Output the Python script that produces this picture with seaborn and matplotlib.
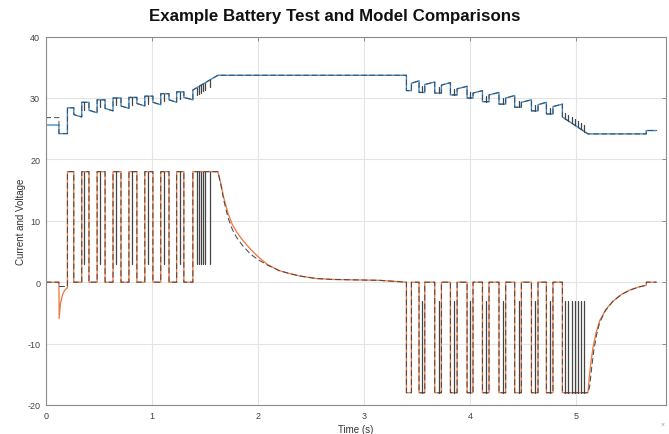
import matplotlib
matplotlib.use("Agg")
import matplotlib.pyplot as plt
import numpy as np
import pandas as pd
import seaborn as sns

# ---------------- data (time in s) ----------------
# current: initial rest and short negative dip
pre_t_model = [0.000, 0.125, 0.127, 0.140, 0.160, 0.180, 0.205]
pre_i_model = [0.0, 0.0, -5.9, -3.4, -2.0, -1.3, -0.9]
pre_t_meas = [0.000, 0.125, 0.125, 0.205]
pre_i_meas = [0.0, 0.0, -0.7, -0.7]

# charge pulses (A)
chg_on = [0.205, 0.340, 0.485, 0.635, 0.785, 0.935, 1.085, 1.235, 1.388]
chg_off = [0.265, 0.408, 0.560, 0.710, 0.860, 1.011, 1.163, 1.303]
chg_level = 18.0
chg_spikes = [0.362, 0.513, 0.665, 0.815, 0.965, 1.117, 1.268,
              1.425, 1.445, 1.465, 1.485, 1.505, 1.548]
chg_spike_level = 3.0

# constant-voltage taper of the current
cv_t = [1.624, 1.65, 1.68, 1.72, 1.76, 1.80, 1.86, 1.93, 2.00, 2.09, 2.20,
        2.30, 2.40, 2.55, 2.70, 3.15, 3.30, 3.40]
cv_i_model = [18.0, 16.2, 13.7, 11.2, 9.4, 8.2, 6.8, 5.4, 4.2, 2.9, 1.9,
              1.4, 1.0, 0.6, 0.45, 0.3, 0.12, 0.0]
cv_i_meas = [18.0, 16.0, 13.3, 10.5, 8.6, 7.3, 5.9, 4.6, 3.7, 2.8, 1.9,
             1.4, 1.0, 0.6, 0.45, 0.3, 0.12, 0.0]

# discharge pulses (A)
dis_on = [3.402, 3.521, 3.669, 3.817, 3.974, 4.119, 4.275, 4.423, 4.581, 4.722, 4.873]
dis_off = [3.449, 3.575, 3.732, 3.880, 4.030, 4.181, 4.338, 4.486, 4.643, 4.784]
dis_level = -18.0
dis_spikes = [3.550, 3.707, 3.848, 4.006, 4.156, 4.313, 4.461, 4.612, 4.760,
              4.900, 4.930, 4.960, 4.990, 5.020, 5.050, 5.080]
dis_spike_level = -3.0

# recovery after the last discharge
rec_t_model = [5.114, 5.125, 5.140, 5.161, 5.190, 5.224, 5.280, 5.350, 5.430,
               5.507, 5.590, 5.664, 5.665, 5.760]
rec_i_model = [-18.0, -15.8, -13.3, -10.7, -8.3, -6.3, -4.5, -3.1, -2.0,
               -1.3, -0.8, -0.5, 0.0, 0.0]
rec_t_meas = [5.114, 5.130, 5.150, 5.170, 5.195, 5.224, 5.280, 5.350, 5.430,
              5.507, 5.590, 5.664, 5.665, 5.760]
rec_i_meas = [-18.0, -17.0, -13.8, -11.0, -8.6, -6.6, -4.6, -3.1, -2.0,
              -1.3, -0.8, -0.5, 0.0, 0.0]

# voltage (V)
v_pre_t = [0.000, 0.125, 0.125, 0.205]
v_pre_model = [25.6, 25.6, 24.2, 24.2]
v_pre_meas = [26.8, 26.8, 24.2, 24.2]
chg_v_high = [28.4, 29.3, 29.7, 30.0, 30.1, 30.3, 30.7, 31.0]
chg_v_low = [26.9, 27.6, 27.9, 28.3, 28.7, 28.9, 29.3, 29.7]
chg_ramp_t = [1.388, 1.624, 3.402]
chg_ramp_v = [31.3, 33.7, 33.7]
dis_v_low = [31.2, 30.9, 30.8, 30.5, 30.0, 29.4, 29.0, 28.5, 27.9, 27.4]
dis_v_rest = [32.8, 32.6, 32.5, 31.9, 31.2, 30.9, 30.4, 29.7, 29.3, 29.0]
end_t = [4.873, 5.114, 5.664, 5.664, 5.760]
end_v = [26.9, 24.15, 24.15, 24.7, 24.7]
v_spike_chg = -1.2
v_spike_dis = 1.0

# ---------------- helpers to assemble the step traces ----------------
def pulse_steps(on, off, level, base=0.0):
    t, v = [], []
    for k, ton in enumerate(on):
        t += [ton, ton]
        v += [base, level]
        if k < len(off):
            t += [off[k], off[k]]
            v += [level, base]
    return t, v


def pulse_volts(on, off, high, low, start, relax):
    t, v = [], []
    prev = start
    for k in range(len(off)):
        t += [on[k], on[k], off[k], off[k]]
        v += [prev, high[k], high[k], low[k] + relax]
        prev = low[k]
    t += [on[-1]]
    v += [prev]
    return t, v


def spike_frame(t, v, spikes, level=None, delta=None, tag=""):
    rows = []
    for n, ts in enumerate(spikes):
        idx = int(np.searchsorted(t, ts, side="right"))
        t0, t1 = t[idx - 1], t[idx]
        val = v[idx - 1] if t1 == t0 else float(np.interp(ts, [t0, t1], [v[idx - 1], v[idx]]))
        tgt = level if level is not None else val + delta
        rows.append({"t": ts, "y": val, "unit": f"{tag}{n}"})
        rows.append({"t": ts, "y": tgt, "unit": f"{tag}{n}"})
    return pd.DataFrame(rows)


ct, cv = pulse_steps(chg_on, chg_off, chg_level)
dt, dv = pulse_steps(dis_on, dis_off, dis_level)

i_model_t = pre_t_model + ct + cv_t + dt + rec_t_model
i_model_v = pre_i_model + cv + cv_i_model + dv + rec_i_model
i_meas_t = pre_t_meas + ct + cv_t + dt + rec_t_meas
i_meas_v = pre_i_meas + cv + cv_i_meas + dv + rec_i_meas

cvt, cvv = pulse_volts(chg_on, chg_off, chg_v_high, chg_v_low, v_pre_model[-1], 0.4)
dvt, dvv = pulse_volts(dis_on, dis_off, dis_v_low, dis_v_rest, chg_ramp_v[-1], -0.4)
v_model_t = v_pre_t + cvt + chg_ramp_t + dvt + end_t
v_model_v = v_pre_model + cvv + chg_ramp_v + dvv + end_v
v_meas_t = v_pre_t + cvt + chg_ramp_t + dvt + end_t
v_meas_v = v_pre_meas + cvv + chg_ramp_v + dvv + end_v

spikes_df = pd.concat([
    spike_frame(i_meas_t, i_meas_v, chg_spikes, level=chg_spike_level, tag="ic"),
    spike_frame(i_meas_t, i_meas_v, dis_spikes, level=dis_spike_level, tag="id"),
    spike_frame(v_meas_t, v_meas_v, chg_spikes, delta=v_spike_chg, tag="vc"),
    spike_frame(v_meas_t, v_meas_v, dis_spikes, delta=v_spike_dis, tag="vd"),
], ignore_index=True)

# ---------------- plotting ----------------
sns.set_style("white")
plt.rcParams["font.family"] = ["Liberation Sans", "DejaVu Sans"]
plt.rcParams["axes.unicode_minus"] = False

fig, ax = plt.subplots(figsize=(6.69, 4.35), dpi=100)
fig.subplots_adjust(left=0.0683, right=0.9955, bottom=0.0667, top=0.9136)

blue = "#3a8fd4"
orange = "#f07a45"
dash_col = "#4a4a4a"
dash_ls = (0, (5.5, 3.0))

sns.lineplot(x=v_model_t, y=v_model_v, estimator=None, sort=False, ax=ax,
             color=blue, linewidth=1.0)
sns.lineplot(x=i_model_t, y=i_model_v, estimator=None, sort=False, ax=ax,
             color=orange, linewidth=0.95)
sns.lineplot(x=v_meas_t, y=v_meas_v, estimator=None, sort=False, ax=ax,
             color=dash_col, linewidth=0.7, linestyle=dash_ls)
sns.lineplot(x=i_meas_t, y=i_meas_v, estimator=None, sort=False, ax=ax,
             color=dash_col, linewidth=0.75, linestyle=dash_ls)
# short down-and-back excursions in the measured traces
sns.lineplot(data=spikes_df, x="t", y="y", units="unit", estimator=None,
             sort=False, ax=ax, color="#444444", linewidth=0.9)

ax.set_xlim(0, 5.85)
ax.set_ylim(-20, 40)
ax.set_xticks([0, 1, 2, 3, 4, 5])
ax.set_yticks([-20, -10, 0, 10, 20, 30, 40])
ax.grid(True, color="#e4e4e4", linewidth=0.8)
ax.set_axisbelow(True)
for s in ax.spines.values():
    s.set_color("#8c8c8c")
    s.set_linewidth(0.8)
ax.tick_params(direction="in", length=3, width=0.7, color="#8c8c8c",
               labelsize=6.5, labelcolor="#444444", top=True, right=True, pad=4)

ax.set_xlabel("Time (s)", fontsize=7, color="#333333", labelpad=3)
ax.set_ylabel("Current and Voltage", fontsize=7, color="#333333", labelpad=1)
fig.text(0.5, 0.961, "Example Battery Test and Model Comparisons",
         ha="center", va="center", fontsize=12.2, fontweight="bold", color="#111111")
fig.text(0.991, 0.022, "×", ha="center", va="center", fontsize=5, color="#999999")

fig.savefig("out.png", dpi=100)
